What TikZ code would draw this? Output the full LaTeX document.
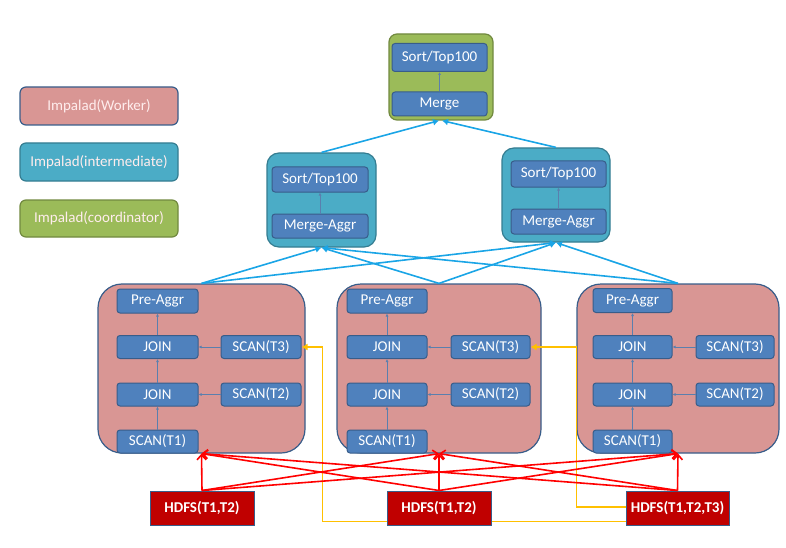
\documentclass[tikz,border=0pt]{standalone}
\usepackage{fontspec}
\setmainfont{Carlito}
\usetikzlibrary{arrows.meta,calc}
\definecolor{wfill}{HTML}{D99694}
\definecolor{wdraw}{HTML}{385D8A}
\definecolor{ifill}{HTML}{4BACC6}
\definecolor{idraw}{HTML}{357D91}
\definecolor{cfill}{HTML}{9BBB59}
\definecolor{cdraw}{HTML}{71893F}
\definecolor{bfill}{HTML}{4F81BD}
\definecolor{bdraw}{HTML}{385D8A}
\definecolor{hfill}{HTML}{C00000}
\definecolor{hdraw}{HTML}{385D8A}
\definecolor{blueline}{HTML}{1AA5E6}
\definecolor{redline}{HTML}{FF0000}
\definecolor{yelline}{HTML}{FFC000}
\definecolor{thinline}{HTML}{5A7FAE}
\begin{document}
\begin{tikzpicture}[x=1pt,y=-1pt,
  txt/.style={font=\fontsize{15}{17}\selectfont},
  legendbox/.style={txt,rounded corners=6pt,line width=1.2pt,minimum width=158pt,minimum height=37pt,text=white!93!red,inner sep=0pt},
  wbig/.style={fill=wfill,draw=wdraw,rounded corners=24pt,line width=1.2pt,inner sep=0pt,minimum height=169pt},
  ibig/.style={fill=ifill,draw=idraw,rounded corners=12pt,line width=1.2pt,inner sep=0pt,minimum height=94pt},
  cbig/.style={fill=cfill,draw=cdraw,rounded corners=8pt,line width=1.2pt,inner sep=0pt,minimum width=104pt,minimum height=86pt},
  op/.style={txt,fill=bfill,draw=bdraw,line width=1pt,rounded corners=3pt,text=white,inner sep=0pt,minimum height=23pt},
  hdfs/.style={font=\fontsize{15}{17}\selectfont\bfseries,fill=hfill,draw=hdraw,line width=1pt,text=white,inner sep=0pt,minimum width=104pt,minimum height=34pt},
  flow/.style={draw=thinline,line width=0.6pt,-{Latex[length=3pt,width=3pt]}},
  bl/.style={draw=blueline,line width=1.6pt,-{Latex[length=6pt,width=7pt]}},
  rd/.style={draw=redline,line width=1.6pt,-{Straight Barb[length=5pt,width=9pt]}},
  yl/.style={draw=yelline,line width=1.6pt,-{Latex[length=6pt,width=7pt]}}]
\useasboundingbox (0,0) rectangle (786,548);

% legend
\node[legendbox,fill=wfill,draw=wdraw,minimum height=38pt] (lw) at (99,106) {Impalad(Worker)};
\node[legendbox,fill=ifill,draw=idraw,minimum height=38pt] (li) at (99,162) {Impalad(intermediate)};
\node[legendbox,fill=cfill,draw=cdraw] (lc) at (99,218.5) {Impalad(coordinator)};

% coordinator
\node[cbig] (co) at (441,77) {};
\node[op,minimum width=95pt,minimum height=28pt] (cs) at (439.5,57.5) {Sort/Top100};
\node[op,minimum width=95pt,minimum height=24pt] (cm) at (439.5,104) {Merge};
\draw[flow] (cm.north) -- (cs.south);

% intermediates
\node[ibig,minimum width=109pt] (i1) at (321.5,200) {};
\node[op,minimum width=96pt,minimum height=25pt] (i1s) at (320,179.5) {Sort/Top100};
\node[op,minimum width=96pt,minimum height=24pt] (i1m) at (320,226) {Merge-Aggr};
\draw[flow] (i1m.north) -- (i1s.south);

\node[ibig,minimum width=108pt] (i2) at (556,195) {};
\node[op,minimum width=95pt,minimum height=26pt] (i2s) at (558.5,174) {Sort/Top100};
\node[op,minimum width=95pt,minimum height=25pt] (i2m) at (558.5,221.5) {Merge-Aggr};
\draw[flow] (i2m.north) -- (i2s.south);

% workers
\node[wbig,minimum width=207pt] (w1) at (201.5,368.5) {};
\node[op,minimum width=81pt,minimum height=24pt] (p1) at (157.5,301) {Pre-Aggr};
\node[op,minimum width=81pt] (j11) at (157.5,347) {JOIN};
\node[op,minimum width=81pt] (j12) at (157.5,394.5) {JOIN};
\node[op,minimum width=81pt] (s11) at (157.5,441.5) {SCAN(T1)};
\node[op,minimum width=80pt] (s13) at (261,347) {SCAN(T3)};
\node[op,minimum width=80pt] (s12) at (261,394.5) {SCAN(T2)};

\node[wbig,minimum width=204pt] (w2) at (439,368.5) {};
\node[op,minimum width=80pt,minimum height=24pt] (p2) at (387,301) {Pre-Aggr};
\node[op,minimum width=80pt] (j21) at (387,347) {JOIN};
\node[op,minimum width=80pt] (j22) at (387,394.5) {JOIN};
\node[op,minimum width=80pt] (s21) at (387,441.5) {SCAN(T1)};
\node[op,minimum width=79pt] (s23) at (490.5,347) {SCAN(T3)};
\node[op,minimum width=79pt] (s22) at (490.5,394.5) {SCAN(T2)};

\node[wbig,minimum width=202pt] (w3) at (678,368.5) {};
\node[op,minimum width=79pt,minimum height=24pt] (p3) at (632.5,300.5) {Pre-Aggr};
\node[op,minimum width=79pt] (j31) at (632.5,347) {JOIN};
\node[op,minimum width=79pt] (j32) at (632.5,394.5) {JOIN};
\node[op,minimum width=79pt] (s31) at (632.5,441.5) {SCAN(T1)};
\node[op,minimum width=78pt] (s33) at (735,347) {SCAN(T3)};
\node[op,minimum width=78pt] (s32) at (735,394.5) {SCAN(T2)};

\foreach \k in {1,2,3}{
  \draw[flow] (s\k1.north) -- (j\k2.south);
  \draw[flow] (j\k2.north) -- (j\k1.south);
  \draw[flow] (j\k1.north) -- (p\k.south);
  \draw[flow] (s\k2.west) -- (j\k2.east);
  \draw[flow] (s\k3.west) -- (j\k1.east);
}

% blue connections
\foreach \w in {w1,w2,w3}{
  \draw[bl] (\w.north) -- (i1.south);
  \draw[bl] (\w.north) -- (i2.south);
}
\draw[bl] (i1.north) -- ([xshift=-2pt]co.south);
\draw[bl] (i2.north) -- ([xshift=1pt]co.south);

% HDFS
\node[hdfs] (h1) at (202,508) {HDFS(T1,T2)};
\node[hdfs,minimum width=103pt] (h3) at (677.5,508) {HDFS(T1,T2,T3)};

% yellow remote reads
\draw[yl] ($(h3.south west)+(0,-4)$) -| ($(s13.east)+(21,0)$) -- (s13.east);
\draw[yl] ($(h3.west)+(0,-1)$) -| ($(s23.east)+(46,0)$) -- (s23.east);

\node[hdfs] (h2) at (439,508) {HDFS(T1,T2)};

% red reads
\foreach \h in {h1,h2,h3}{
  \foreach \w in {w1,w2,w3}{
    \draw[rd] (\h.north) -- (\w.south);
  }
}
\end{tikzpicture}
\end{document}
